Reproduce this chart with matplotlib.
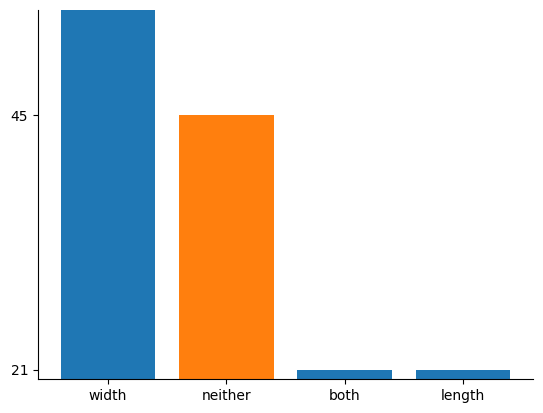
import matplotlib
matplotlib.use("Agg")
import matplotlib.pyplot as plt

categories = ["width", "neither", "both", "length"]
values = [55, 45, 21, 21]
colors = ["#1f77b4", "#ff7f0e", "#1f77b4", "#1f77b4"]
yticks = [21, 45]

fig = plt.figure(figsize=(5.43, 4.13), dpi=100)
ax = fig.add_axes([38/543, 1-379/413, (533-38)/543, (379-10)/413])
ax.bar(categories, values, color=colors, width=0.8)
ax.set_ylim(20.15, 54.9)
ax.set_yticks(yticks)
ax.spines["top"].set_visible(False)
ax.spines["right"].set_visible(False)
fig.savefig("out.png", dpi=100)
